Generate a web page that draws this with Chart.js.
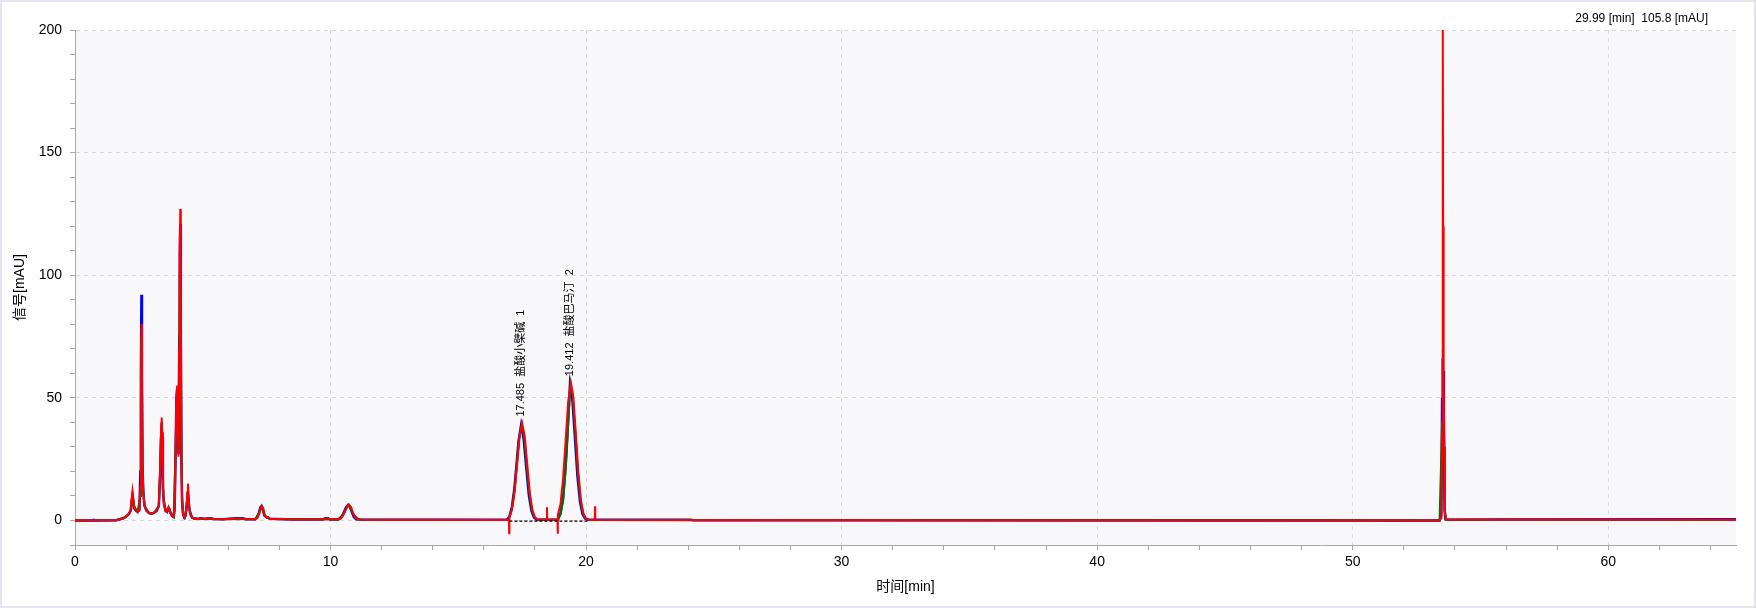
<!DOCTYPE html>
<html lang="zh">
<head>
    <meta charset="UTF-8">
    <title>色谱图</title>
    <script src="https://cdn.jsdelivr.net/npm/chart.js@4.4.1/dist/chart.umd.min.js"></script>
    <style>
        html, body { margin: 0; padding: 0; background: #fff; }
        #wrap { width: 1756px; height: 608px; }
    </style>
</head>
<body>
<div id="wrap">
    <canvas id="myChart" width="1756" height="608"></canvas>
</div>
<script>
    // traces: [time (min), signal (mAU)]
    var redTrace = [[0,0],[1.6,0.1],[1.75,0.4],[1.9,0.9],[2.0,1.5],[2.1,2.5],[2.18,4],[2.22,9],[2.25,12],[2.28,9],[2.32,5],[2.38,4],[2.45,3.5],[2.52,4],[2.56,14],[2.58,45],[2.6,80],[2.62,55],[2.64,20],[2.67,12],[2.72,6],[2.8,4],[2.9,3],[3.0,2.8],[3.1,3.2],[3.2,4],[3.28,6],[3.33,20],[3.37,38],[3.39,42],[3.41,36],[3.44,14],[3.48,7],[3.54,4],[3.6,3.5],[3.66,5.5],[3.7,4.5],[3.74,3],[3.8,1.8],[3.86,1.5],[3.9,4],[3.94,28],[3.97,50],[4.0,55],[4.03,38],[4.05,26],[4.08,70],[4.1,110],[4.12,127],[4.14,90],[4.16,30],[4.19,8],[4.23,2.5],[4.28,1.2],[4.33,2],[4.37,6],[4.4,11],[4.42,15],[4.44,12],[4.47,5],[4.52,2.5],[4.58,1.2],[4.66,0.8],[4.8,0.6],[4.95,0.9],[5.05,0.6],[5.3,0.9],[5.42,0.6],[5.8,0.5],[6.3,0.8],[6.55,0.8],[6.7,0.5],[7.05,0.5],[7.15,1.2],[7.22,3],[7.28,5.5],[7.32,5.8],[7.37,4.8],[7.43,2.2],[7.5,1.2],[7.55,1.4],[7.62,0.7],[8.5,0.4],[9.7,0.4],[9.8,0.8],[9.9,0.8],[9.98,0.4],[10.3,0.4],[10.42,0.9],[10.52,2.5],[10.62,5],[10.72,6.5],[10.8,5.5],[10.88,3.2],[10.96,1.3],[11.05,0.5],[11.2,0.3],[12,0.2],[16.9,0.2],[16.98,0.5],[16.99,-5.2],[17.0,1.2],[17.1,4.3],[17.2,11.3],[17.3,22.7],[17.4,34.3],[17.5,39.5],[17.6,34.3],[17.7,22.7],[17.8,11.3],[17.9,4.3],[18.0,1.3],[18.1,0.5],[18.46,0.3],[18.47,5.4],[18.48,0.3],[18.88,0.4],[18.89,-5.4],[18.9,2.2],[19.0,6.7],[19.1,17],[19.2,32.5],[19.3,48.5],[19.41,56],[19.5,50.5],[19.6,35.5],[19.7,19.5],[19.8,8.2],[19.9,2.8],[20.0,0.8],[20.1,0.3],[20.34,0.2],[20.35,5.8],[20.36,0.2],[24,0.1],[53.4,0],[53.47,1],[53.5,35],[53.52,120],[53.53,205],[53.54,120],[53.55,40],[53.57,50],[53.59,30],[53.61,4],[53.64,0.5],[53.7,0.3],[55.5,0.3],[65,0.3]];
    var greenTrace = [[0,0],[1.6,0.1],[1.9,0.9],[2.1,2.5],[2.2,4.5],[2.25,10],[2.3,6],[2.45,3.5],[2.55,10],[2.58,50],[2.6,75],[2.62,58],[2.64,25],[2.67,12],[2.72,6],[2.9,3],[3.1,3.2],[3.28,6],[3.33,20],[3.37,36],[3.39,39],[3.42,30],[3.46,10],[3.54,4],[3.66,5],[3.74,3],[3.86,1.5],[3.94,30],[3.97,48],[4.0,50],[4.03,36],[4.05,28],[4.1,100],[4.12,105],[4.14,85],[4.16,40],[4.19,10],[4.23,2.5],[4.3,1.3],[4.37,6],[4.42,12],[4.47,5],[4.58,1.2],[4.8,0.6],[7.05,0.5],[7.2,3],[7.3,5.8],[7.4,2.5],[7.5,1.2],[7.62,0.7],[10.3,0.4],[10.5,2.6],[10.7,6.4],[10.9,2.5],[11.1,0.4],[16.9,0.2],[17.0,1.4],[17.1,5],[17.2,12.5],[17.3,24],[17.38,33.5],[17.48,39],[17.58,34],[17.68,22],[17.78,11],[17.88,4.2],[17.98,1.3],[18.08,0.4],[18.9,0.3],[19.0,2.6],[19.1,8],[19.2,21],[19.28,36],[19.39,56],[19.48,50.5],[19.58,35.5],[19.68,19.5],[19.78,8.2],[19.88,2.8],[19.98,0.8],[20.08,0.3],[53.4,0],[53.5,40],[53.53,70],[53.56,40],[53.6,4],[53.65,0.3],[56.5,0.3],[57.6,0.3],[65,0.3]];
    var blueTrace = [[0,0],[0.72,0],[0.73,0.7],[0.74,0],[1.6,0.1],[1.75,0.5],[1.9,1],[2.0,1.6],[2.1,2.6],[2.18,4],[2.22,8],[2.25,10],[2.28,8],[2.32,5],[2.38,4],[2.45,3.6],[2.52,4.5],[2.56,20],[2.58,60],[2.6,92],[2.62,60],[2.64,22],[2.67,12],[2.72,6],[2.8,4],[2.9,3],[3.0,2.8],[3.1,3.2],[3.2,4],[3.28,6],[3.33,18],[3.37,34],[3.39,40],[3.41,34],[3.44,13],[3.48,7],[3.54,4],[3.6,3.5],[3.66,5],[3.7,4.5],[3.74,3],[3.8,1.8],[3.86,1.5],[3.9,5],[3.94,30],[3.97,50],[4.0,54],[4.03,36],[4.05,27],[4.08,75],[4.1,108],[4.12,121],[4.14,80],[4.16,28],[4.19,8],[4.23,2.5],[4.28,1.2],[4.33,2],[4.37,6],[4.4,10],[4.42,10],[4.44,9],[4.47,5],[4.52,2.5],[4.58,1.2],[4.66,0.8],[4.8,0.7],[4.95,0.9],[5.05,0.7],[5.3,0.9],[5.42,0.6],[5.8,0.5],[6.3,0.9],[6.55,0.9],[6.7,0.5],[7.05,0.5],[7.12,1.2],[7.2,3.2],[7.26,5.5],[7.3,5.8],[7.35,4.5],[7.41,2],[7.5,1.2],[7.55,1.3],[7.62,0.7],[8.5,0.4],[9.7,0.4],[9.8,0.9],[9.9,0.9],[9.98,0.4],[10.3,0.4],[10.4,1],[10.5,2.8],[10.6,5.2],[10.68,6.3],[10.76,5.6],[10.84,3.2],[10.92,1.3],[11.0,0.5],[11.2,0.3],[12,0.3],[16.9,0.3],[17.0,1.6],[17.1,5.6],[17.2,13.5],[17.3,25.5],[17.36,32.5],[17.46,39],[17.56,33],[17.66,21.5],[17.76,10.5],[17.86,4],[17.96,1.2],[18.06,0.4],[18.2,0.3],[18.9,0.4],[19.0,3],[19.1,9],[19.2,22],[19.26,33],[19.37,55.5],[19.46,50],[19.56,34.5],[19.66,18.5],[19.76,7.8],[19.86,2.6],[19.96,0.8],[20.06,0.3],[24.1,0.3],[24.2,0.1],[29.5,0.1],[53.4,0],[53.47,2],[53.5,50],[53.52,66],[53.53,44],[53.55,61],[53.57,37],[53.6,4],[53.63,0.5],[53.7,0.3],[55.9,0.4],[65,0.5]];
    var baselineTrace = [[17.0,-0.3],[20.1,-0.3]];

    // peak labels
    var peakTimes = [17.485, 19.412];
    var peakTops = [39.5, 56];
    var peakNames = ['盐酸小檗碱', '盐酸巴马汀'];
    var peakNumbers = [1, 2];

    var cursorText = '29.99 [min]  105.8 [mAU]';

    var FONT = "'Liberation Sans', Arial, 'Noto Sans CJK SC', sans-serif";

    function toPoints(trace) {
        return trace.map(function (e) { return {x: e[0], y: e[1]}; });
    }

    var bgPlugin = {
        id: 'bg',
        beforeDraw: function (chart) {
            var ctx = chart.ctx, a = chart.chartArea;
            ctx.save();
            ctx.fillStyle = '#ffffff';
            ctx.fillRect(0, 0, chart.width, chart.height);
            ctx.fillStyle = '#f8f8fa';
            ctx.fillRect(a.left, a.top, a.right - a.left, a.bottom - a.top);
            ctx.strokeStyle = '#e4e4ee';
            ctx.lineWidth = 2;
            ctx.strokeRect(1, 1, chart.width - 2, chart.height - 2);
            ctx.restore();
        },
        afterDatasetsDraw: function (chart) {
            var ctx = chart.ctx, xs = chart.scales.x, ys = chart.scales.y;
            ctx.save();
            ctx.fillStyle = '#000';
            ctx.font = '11px ' + FONT;
            ctx.textAlign = 'left';
            ctx.textBaseline = 'middle';
            for (var i = 0; i < peakTimes.length; i++) {
                var px = xs.getPixelForValue(peakTimes[i]) - 1;
                var py = ys.getPixelForValue(peakTops[i]) - 7;
                ctx.save();
                ctx.translate(px, py);
                ctx.rotate(-Math.PI / 2);
                ctx.fillText(peakTimes[i].toFixed(3) + '  ' + peakNames[i] + '  ' + peakNumbers[i], 0, 0);
                ctx.restore();
            }
            ctx.font = '12px ' + FONT;
            ctx.textAlign = 'right';
            ctx.fillText(cursorText, 1708, 19);
            ctx.restore();
        }
    };

    var ctx = document.querySelector('#myChart').getContext('2d');
    new Chart(ctx, {
        type: 'line',
        data: {
            datasets: [{
                label: 'baseline',
                data: toPoints(baselineTrace),
                borderColor: '#000000',
                borderWidth: 1.2,
                borderDash: [3, 2]
            }, {
                label: 'red',
                data: toPoints(redTrace),
                borderColor: '#ff0000',
                borderWidth: 2
            }, {
                label: 'green',
                data: toPoints(greenTrace),
                borderColor: '#007000',
                borderWidth: 2
            }, {
                label: 'blue',
                data: toPoints(blueTrace),
                borderColor: '#0000ff',
                borderWidth: 2.5
            }]
        },
        options: {
            responsive: false,
            animation: false,
            devicePixelRatio: 1,
            elements: {
                point: {radius: 0},
                line: {tension: 0, fill: false}
            },
            layout: {padding: {left: 0, top: 30, right: 20, bottom: 0}},
            plugins: {
                legend: {display: false},
                tooltip: {enabled: false}
            },
            scales: {
                x: {
                    type: 'linear',
                    min: 0,
                    max: 65,
                    afterFit: function (s) { s.height = 63; },
                    ticks: {
                        stepSize: 2,
                        includeBounds: false,
                        autoSkip: false,
                        maxRotation: 0,
                        padding: 4,
                        color: '#000',
                        font: {family: FONT, size: 14},
                        callback: function (v) { return v % 10 === 0 ? v : ''; }
                    },
                    grid: {
                        color: function (c) { return (c.tick && c.tick.value % 10 === 0 && c.tick.value !== 0) ? '#d8d8d8' : 'rgba(0,0,0,0)'; },
                        tickColor: '#a8a8a8',
                        tickLength: 5,
                        lineWidth: 1
                    },
                    border: {display: true, color: '#a8a8a8', width: 1, dash: [4, 4]},
                    title: {
                        display: true,
                        text: '时间[min]',
                        color: '#000',
                        font: {family: FONT, size: 14},
                        padding: {top: 0, bottom: 12}
                    }
                },
                y: {
                    min: -10,
                    max: 200,
                    afterFit: function (s) { s.width = 75; },
                    ticks: {
                        stepSize: 10,
                        autoSkip: false,
                        padding: 8,
                        color: '#000',
                        font: {family: FONT, size: 14},
                        callback: function (v) { return v % 50 === 0 ? v : ''; }
                    },
                    grid: {
                        color: function (c) { return (c.tick && c.tick.value % 50 === 0) ? '#d8d8d8' : 'rgba(0,0,0,0)'; },
                        tickColor: '#a8a8a8',
                        tickLength: 5,
                        lineWidth: 1
                    },
                    border: {display: true, color: '#a8a8a8', width: 1, dash: [4, 4]},
                    title: {
                        display: true,
                        text: '信号[mAU]',
                        color: '#000',
                        font: {family: FONT, size: 14},
                        padding: {top: 12, bottom: 0}
                    }
                }
            }
        },
        plugins: [bgPlugin]
    });
</script>
</body>
</html>
